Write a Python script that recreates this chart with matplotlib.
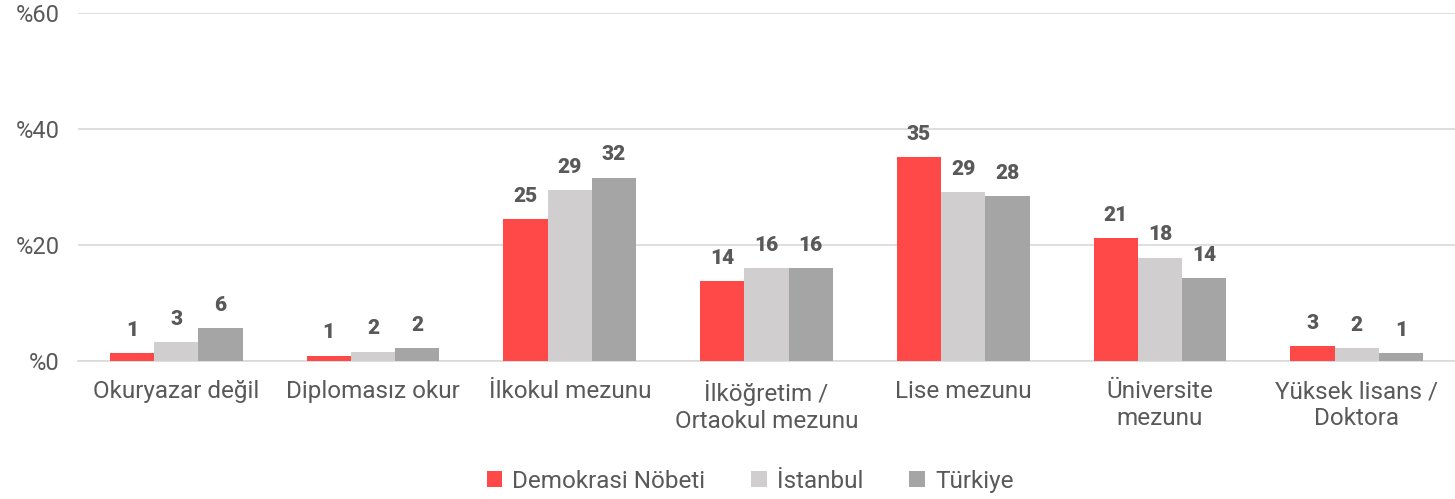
import numpy as np
import matplotlib.pyplot as plt

categories = ["Okuryazar değil", "Diplomasız okur", "İlkokul mezunu",
              "İlköğretim /\nOrtaokul mezunu", "Lise mezunu",
              "Üniversite\nmezunu", "Yüksek lisans /\nDoktora"]
series_names = ["Demokrasi Nöbeti", "İstanbul", "Türkiye"]
demokrasi = [1.4, 0.9, 24.5, 13.8, 35.2, 21.2, 2.6]
istanbul = [3.3, 1.6, 29.5, 16.0, 29.1, 17.8, 2.2]
turkiye = [5.7, 2.2, 31.6, 16.0, 28.4, 14.3, 1.4]
labels_dem = ["1", "1", "25", "14", "35", "21", "3"]
labels_ist = ["3", "2", "29", "16", "29", "18", "2"]
labels_tur = ["6", "2", "32", "16", "28", "14", "1"]
yticks = [0, 20, 40, 60]

colors = ["#FF4848", "#D0CECE", "#A5A5A5"]
text_color = "#595959"
plt.rcParams['font.family'] = ['Roboto', 'DejaVu Sans']

fig = plt.figure(figsize=(14.55, 4.99), dpi=100)
ax = fig.add_axes([78 / 1455, 1 - 361 / 499, 1377 / 1455, 348 / 499])

x = np.arange(len(categories))
w = 0.225
all_vals = [demokrasi, istanbul, turkiye]
all_labels = [labels_dem, labels_ist, labels_tur]
for i, (vals, labs) in enumerate(zip(all_vals, all_labels)):
    pos = x + (i - 1) * w
    ax.bar(pos, vals, width=w, color=colors[i], label=series_names[i], zorder=3)
    for px, v, lab in zip(pos, vals, labs):
        ax.text(px, v + 2.3, lab, ha='center', va='bottom', fontsize=15,
                fontweight='black', color=text_color)

ax.set_xlim(-0.5, len(categories) - 0.5)
ax.set_ylim(0, 60)
ax.set_yticks(yticks)
ax.set_yticklabels([f"%{t}" for t in yticks], fontsize=17, color=text_color)
ax.set_xticks(x)
ax.set_xticklabels(categories, fontsize=17.5, color=text_color, linespacing=1.2)
ax.tick_params(axis='both', length=0)
ax.tick_params(axis='y', pad=13)
ax.tick_params(axis='x', pad=14)
ax.yaxis.grid(True, color='#D9D9D9', linewidth=1.2, zorder=0)
for s in ['top', 'right', 'left']:
    ax.spines[s].set_visible(False)
ax.spines['bottom'].set_color('#D9D9D9')
ax.spines['bottom'].set_linewidth(1.2)

ax.legend(loc='upper center', bbox_to_anchor=(0.488, -0.25), ncol=3, frameon=False,
          fontsize=17.5, labelcolor=text_color, handlelength=0.65, handleheight=0.65,
          handletextpad=0.4, columnspacing=1.9)

fig.savefig("out.png", dpi=100)
